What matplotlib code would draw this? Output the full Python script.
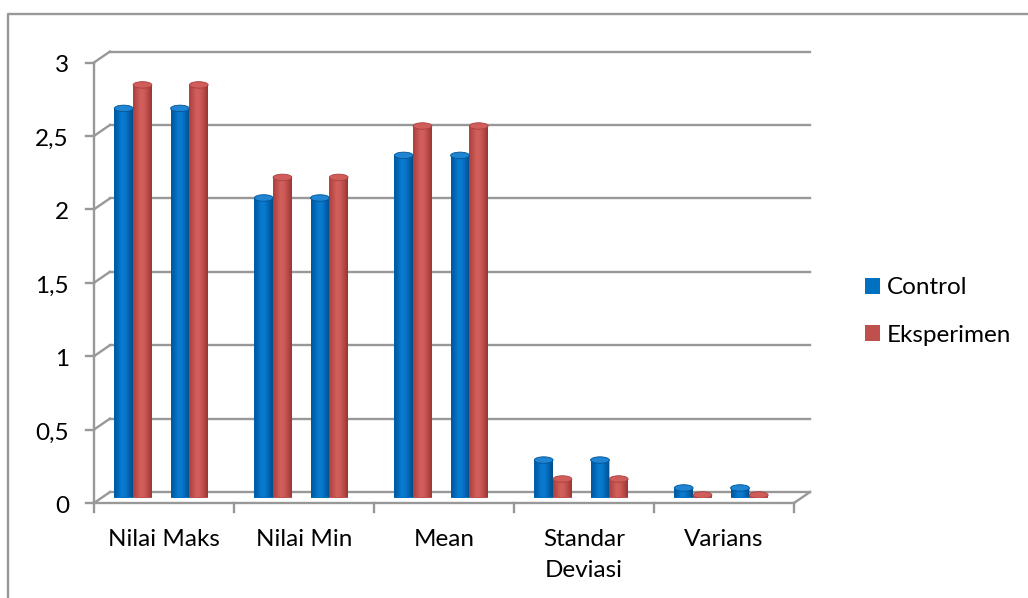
import numpy as np
import matplotlib
matplotlib.use("Agg")
import matplotlib.pyplot as plt
from matplotlib.patches import Ellipse, Patch, Polygon
from matplotlib.lines import Line2D
from matplotlib.colors import LinearSegmentedColormap

# ---- data -------------------------------------------------------------
categories = ["Nilai Maks", "Nilai Min", "Mean", "Standar\nDeviasi", "Varians"]
series_names = ["Control", "Eksperimen"]
control = [2.65, 2.04, 2.33, 0.255, 0.065]
eksperimen = [2.81, 2.18, 2.53, 0.126, 0.017]
y_ticks = [0, 0.5, 1, 1.5, 2, 2.5, 3]
y_tick_labels = ["0", "0,5", "1", "1,5", "2", "2,5", "3"]

# ---- styling ----------------------------------------------------------
plt.rcParams["font.family"] = ["Lato", "DejaVu Sans"]
FS = 17.5
GRID = "#989898"
TEXT = "#000000"
BASE = {"Control": "#0070c0", "Eksperimen": "#c0504d"}
GRAD = {
    "Control": ["#005596", "#0068b8", "#0a7bd0", "#0877cb", "#0062ad", "#004c88"],
    "Eksperimen": ["#a8403d", "#bf4f4c", "#d2615e", "#cd5b58", "#b84946", "#933633"],
}
TOP = {"Control": "#1f84d2", "Eksperimen": "#d05d5a"}

W, H = 1028, 598
fig = plt.figure(figsize=(W / 100, H / 100), dpi=100)

# plot area (mid-depth plane of the 3-D box)
left_px, right_px = 102, 802
zero_px, top_px = 497.5, 57.0
ax = fig.add_axes([left_px / W, 1 - zero_px / H,
                   (right_px - left_px) / W, (zero_px - top_px) / H])
ax.set_xlim(0, len(categories))
ax.set_ylim(0, 3)
ax.axis("off")

px_x = (right_px - left_px) / len(categories)
px_y = (zero_px - top_px) / 3.0
DX, DY = 8.0, 5.5          # half depth of the box in pixels


def depth(x, y, k):
    """Shift a data point towards the back (k=+1) or front (k=-1) plane."""
    return x + k * DX / px_x, y + k * DY / px_y


def line(p, q, **kw):
    ax.add_line(Line2D([p[0], q[0]], [p[1], q[1]], color=GRID, lw=1.7,
                       clip_on=False, solid_capstyle="projecting", **kw))


n = len(categories)

# back wall gridlines and left-wall diagonals
for v in y_ticks:
    line(depth(0, v, 1), depth(n, v, 1), zorder=1)
    line(depth(0, v, -1), depth(0, v, 1), zorder=1)

# floor front edge, right floor edge, left front axis
line(depth(0, 0, -1), depth(n, 0, -1), zorder=1)
line(depth(n, 0, -1), depth(n, 0, 1), zorder=1)
line(depth(0, 0, -1), depth(0, 3, -1), zorder=1)

# tick marks
for v in y_ticks:
    x0, y0 = depth(0, v, -1)
    line((x0, y0), (x0 - 8 / px_x, y0), zorder=1)
for i in range(n + 1):
    x0, y0 = depth(i, 0, -1)
    line((x0, y0), (x0, y0 - 9 / px_y), zorder=1)

# tick labels
for v, lab in zip(y_ticks, y_tick_labels):
    x0, y0 = depth(0, v, -1)
    ax.text(x0 - 25 / px_x, y0 - 10 / px_y, lab, ha="right", va="baseline",
            fontsize=FS, color=TEXT, clip_on=False)
for i, cat in enumerate(categories):
    xc, _ = depth(i + 0.5, 0, -1)
    for k, part in enumerate(cat.split("\n")):
        ax.text(xc, -(48.5 + 31 * k) / px_y, part, ha="center", va="baseline",
                fontsize=FS, color=TEXT, clip_on=False)

# ---- cylinder bars ----------------------------------------------------
bar_w = 0.134
pair_centres = [0.222, 0.624]
eh = 6.5 / px_y            # projected height of a cylinder cap
xs = np.arange(n)


def cylinders(offset, values, name, z):
    bars = ax.bar(xs + offset, values, width=bar_w, color=BASE[name],
                  linewidth=0, zorder=z)
    cmap = LinearSegmentedColormap.from_list(name, GRAD[name])
    grad = np.linspace(0, 1, 64)[None, :]
    for b in bars:
        x0, w, h = b.get_x(), b.get_width(), b.get_height()
        t = np.linspace(np.pi, 2 * np.pi, 40)
        arc = np.column_stack([x0 + w / 2 + w / 2 * np.cos(t), eh / 2 * np.sin(t)])
        outline = np.vstack([[[x0, h]], arc, [[x0 + w, h]]])
        clip = Polygon(outline, closed=True, transform=ax.transData)
        im = ax.imshow(grad, cmap=cmap, aspect="auto", interpolation="bilinear",
                       extent=(x0, x0 + w, -eh / 2, h), zorder=z + 0.1)
        im.set_clip_path(clip)
        ax.add_patch(Ellipse((x0 + w / 2, h), w, eh, facecolor=TOP[name],
                             edgecolor=GRAD[name][0], linewidth=0.6,
                             zorder=z + 0.2))
    return bars


for pc in pair_centres:
    cylinders(pc - bar_w / 2, control, "Control", 3)
    cylinders(pc + bar_w / 2, eksperimen, "Eksperimen", 3)

ax.set_xlim(0, n)
ax.set_ylim(0, 3)

# ---- legend -----------------------------------------------------------
handles = [Patch(facecolor=BASE[s], edgecolor="none") for s in series_names]
fig.legend(handles, series_names, loc="center left",
           bbox_to_anchor=(865 / W, 1 - 311.5 / H), frameon=False,
           fontsize=FS, handlelength=0.62, handleheight=0.62,
           handletextpad=0.28, labelspacing=1.08, borderpad=0,
           borderaxespad=0)

# chart-area border
fig.add_artist(Line2D([8 / W, 8 / W, 1.0], [0.0, 1 - 14 / H, 1 - 14 / H],
                      transform=fig.transFigure, color=GRID, lw=1.7))

fig.savefig("out.png", dpi=100)
